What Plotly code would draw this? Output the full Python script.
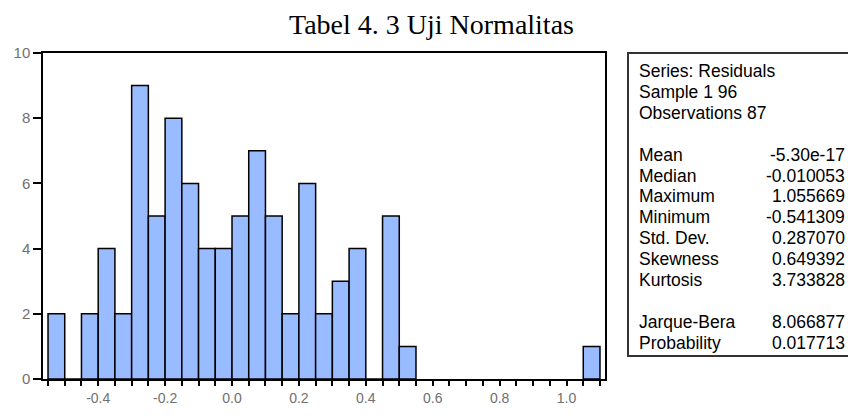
import plotly.graph_objects as go

# Histogram data (bin start, counts), bin width 0.05
bin_starts = [-0.55, -0.50, -0.45, -0.40, -0.35, -0.30, -0.25, -0.20, -0.15, -0.10,
              -0.05, 0.00, 0.05, 0.10, 0.15, 0.20, 0.25, 0.30, 0.35, 0.40,
              0.45, 0.50, 1.05]
counts = [2, 0, 2, 4, 2, 9, 5, 8, 6, 4,
          4, 5, 7, 5, 2, 6, 2, 3, 4, 0,
          5, 1, 1]
bin_width = 0.05

x_tick_vals = [-0.4, -0.2, 0.0, 0.2, 0.4, 0.6, 0.8, 1.0]
x_tick_labels = ["-0.4", "-0.2", "0.0", "0.2", "0.4", "0.6", "0.8", "1.0"]
y_tick_vals = [0, 2, 4, 6, 8, 10]

stat_header = ["Series: Residuals", "Sample 1 96", "Observations 87"]
stat_labels = ["Mean", "Median", "Maximum", "Minimum", "Std. Dev.", "Skewness", "Kurtosis"]
stat_values = ["-5.30e-17", "-0.010053", "1.055669", "-0.541309", "0.287070", "0.649392", "3.733828"]
test_labels = ["Jarque-Bera", "Probability"]
test_values = ["8.066877", "0.017713"]

title_text = "Tabel 4. 3 Uji Normalitas"

W, H = 848, 418
L, R, T, B = 43, 243, 53, 26
PW, PH = W - L - R, H - T - B

def px(x):
    return (x - L) / PW

def py(y):
    return (H - B - y) / PH

xs = [s + bin_width / 2 for s in bin_starts]
fig = go.Figure(go.Bar(
    x=xs, y=counts, width=[bin_width] * len(xs),
    marker=dict(color="#99BBFF", line=dict(color="black", width=1.5)),
    hoverinfo="skip",
))

fig.update_layout(
    width=W, height=H,
    margin=dict(l=L, r=R, t=T, b=B, pad=0),
    paper_bgcolor="white", plot_bgcolor="white",
    showlegend=False,
    xaxis=dict(range=[-0.565, 1.115], tickmode="array", tickvals=x_tick_vals,
               ticktext=x_tick_labels,
               ticks="outside", ticklen=5, tickwidth=1.5, tickcolor="black",
               showline=True, linecolor="black", linewidth=1.5, mirror=True,
               showgrid=False, zeroline=False,
               tickfont=dict(family="Liberation Sans, Arial", size=14, color="#707070"),
               minor=dict(dtick=0.05, tick0=0, ticks="outside", ticklen=5,
                          tickwidth=1.5, tickcolor="black", showgrid=False)),
    yaxis=dict(range=[0, 10], tickmode="array", tickvals=y_tick_vals,
               ticks="outside", ticklen=8, tickwidth=1.5,
               tickcolor="black", showline=True, linecolor="black", linewidth=1.5,
               mirror=True, showgrid=False, zeroline=False,
               tickfont=dict(family="Liberation Sans, Arial", size=15, color="#707070")),
)

# Title
fig.add_annotation(text=title_text, xref="paper", yref="paper",
                   x=px(431.5), y=py(23), xanchor="center", yanchor="middle",
                   showarrow=False,
                   font=dict(family="Liberation Serif, Times New Roman", size=28, color="black"))

# Stats box
fig.add_shape(type="rect", xref="paper", yref="paper",
              x0=px(628), x1=px(856), y0=py(368), y1=py(53),
              line=dict(color="#333333", width=2), fillcolor="white")

sfont = dict(family="Liberation Sans, Arial", size=17.5, color="black")
step = 21.7
y0 = 72
lines = []
for i, t in enumerate(stat_header):
    lines.append((t, None, y0 + i * step))
for i, (a, b) in enumerate(zip(stat_labels, stat_values)):
    lines.append((a, b, y0 + (4 + i) * step))
for i, (a, b) in enumerate(zip(test_labels, test_values)):
    lines.append((a, b, y0 + (12 + i) * step))

for lab, val, yy in lines:
    fig.add_annotation(text=lab, xref="paper", yref="paper", x=px(637), y=py(yy),
                       xanchor="left", yanchor="middle", showarrow=False, font=sfont)
    if val is not None:
        fig.add_annotation(text=val, xref="paper", yref="paper", x=px(847), y=py(yy),
                           xanchor="right", yanchor="middle", showarrow=False, font=sfont)

fig.write_html("out.html", config={"displayModeBar": False},
               post_script="document.body.style.margin='0';")
